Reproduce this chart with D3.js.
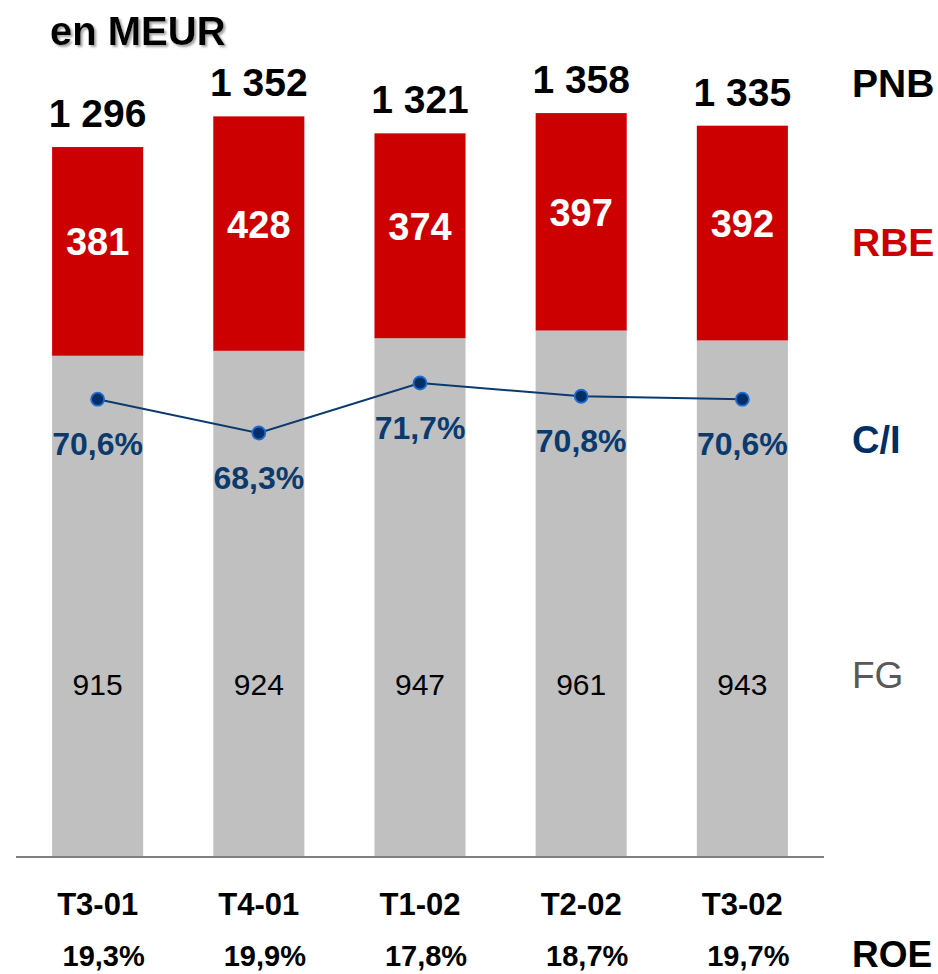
<!DOCTYPE html>
<html>
<head>
<meta charset="utf-8">
<script src="https://cdn.jsdelivr.net/npm/d3@7/dist/d3.min.js"></script>
<style>
  html, body { margin: 0; padding: 0; background: #fff; }
  svg { display: block; font-family: "Liberation Sans", Arial, sans-serif; }
</style>
</head>
<body>
<svg id="chart" width="938" height="974"></svg>
<script>
// ---- data ----
const categories = ["T3-01", "T4-01", "T1-02", "T2-02", "T3-02"];
const fgValues   = [915, 924, 947, 961, 943];      // FG (grey)
const rbeValues  = [381, 428, 374, 397, 392];      // RBE (red)
const pnbValues  = [1296, 1352, 1321, 1358, 1335]; // PNB totals
const ciValues   = [70.6, 68.3, 71.7, 70.8, 70.6]; // C/I %
const roeValues  = [19.3, 19.9, 17.8, 18.7, 19.7]; // ROE %
const legendLabels = ["PNB", "RBE", "C/I", "FG", "ROE"];

const fmtPct = v => v.toFixed(1).replace(".", ",") + "%";
const fmtThousands = v => {
  const s = String(v);
  return s.length > 3 ? s.slice(0, s.length - 3) + " " + s.slice(-3) : s;
};

const RED = "#cc0000", GREY = "#c0c0c0", NAVY = "#0b3a6e";

const svg = d3.select("#chart");

// drop shadow filter for title
const defs = svg.append("defs");
const f = defs.append("filter").attr("id", "shadow")
  .attr("x", "-10%").attr("y", "-20%").attr("width", "130%").attr("height", "150%");
f.append("feDropShadow").attr("dx", 2).attr("dy", 2).attr("stdDeviation", 0.8)
  .attr("flood-color", "#999").attr("flood-opacity", 0.9);

const x = d3.scaleBand().domain(categories).range([16, 824])
  .paddingInner(0.435).paddingOuter(0.224);
const y = d3.scaleLinear().domain([0, 1400]).range([857, 857 - 1400 * 0.5478]);
const yCI = d3.scaleLinear().domain([60, 80]).range([555, 261]);

// title
svg.append("text").attr("x", 50).attr("y", 45).text("en MEUR")
  .attr("font-size", 40).attr("font-weight", "bold").attr("fill", "#000")
  .attr("filter", "url(#shadow)");

const rows = categories.map((c, i) => ({
  cat: c, fg: fgValues[i], rbe: rbeValues[i], pnb: pnbValues[i], ci: ciValues[i], roe: roeValues[i]
}));

// FG bars
svg.append("g").selectAll("rect").data(rows).join("rect")
  .attr("x", d => x(d.cat)).attr("width", x.bandwidth())
  .attr("y", d => y(d.fg)).attr("height", d => y(0) - y(d.fg))
  .attr("fill", GREY);

// RBE bars
svg.append("g").selectAll("rect").data(rows).join("rect")
  .attr("x", d => x(d.cat)).attr("width", x.bandwidth())
  .attr("y", d => y(d.fg + d.rbe)).attr("height", d => y(d.fg) - y(d.fg + d.rbe))
  .attr("fill", RED);

// axis baseline
svg.append("line").attr("x1", 16).attr("x2", 824).attr("y1", y(0)).attr("y2", y(0))
  .attr("stroke", "#7f7f7f").attr("stroke-width", 2);

const cx = d => x(d.cat) + x.bandwidth() / 2;

// PNB totals
svg.append("g").selectAll("text").data(rows).join("text")
  .attr("x", cx).attr("y", d => y(d.pnb) - 20)
  .attr("text-anchor", "middle").attr("font-size", 39).attr("font-weight", "bold")
  .attr("fill", "#000").text(d => fmtThousands(d.pnb));

// RBE labels
svg.append("g").selectAll("text").data(rows).join("text")
  .attr("x", cx).attr("y", d => (y(d.fg) + y(d.fg + d.rbe)) / 2 + 4)
  .attr("text-anchor", "middle").attr("font-size", 38).attr("font-weight", "bold")
  .attr("fill", "#fff").text(d => d.rbe);

// FG labels
svg.append("g").selectAll("text").data(rows).join("text")
  .attr("x", cx).attr("y", y(0) - 162)
  .attr("text-anchor", "middle").attr("font-size", 30)
  .attr("fill", "#000").text(d => d.fg);

// C/I line
const line = d3.line().x(cx).y(d => yCI(d.ci));
svg.append("path").datum(rows).attr("d", line)
  .attr("fill", "none").attr("stroke", NAVY).attr("stroke-width", 2);
svg.append("g").selectAll("circle").data(rows).join("circle")
  .attr("cx", cx).attr("cy", d => yCI(d.ci)).attr("r", 6.5)
  .attr("fill", "#002f66").attr("stroke", "#1e6ad0").attr("stroke-width", 1.8);
svg.append("g").selectAll("text").data(rows).join("text")
  .attr("x", cx).attr("y", d => yCI(d.ci) + 56)
  .attr("text-anchor", "middle").attr("font-size", 32).attr("font-weight", "bold")
  .attr("fill", NAVY).text(d => fmtPct(d.ci));

// category labels
svg.append("g").selectAll("text").data(rows).join("text")
  .attr("x", cx).attr("y", 915)
  .attr("text-anchor", "middle").attr("font-size", 31).attr("font-weight", "bold")
  .attr("fill", "#000").text(d => d.cat);

// ROE labels
svg.append("g").selectAll("text").data(rows).join("text")
  .attr("x", d => cx(d) + 6).attr("y", 966)
  .attr("text-anchor", "middle").attr("font-size", 29).attr("font-weight", "bold")
  .attr("fill", "#000").text(d => fmtPct(d.roe));

// right-side legend labels
const legendStyle = [
  { y: 97,  fill: "#000",    weight: "bold",   size: 39 },
  { y: 256, fill: RED,       weight: "bold",   size: 39 },
  { y: 453, fill: "#002f66", weight: "bold",   size: 38 },
  { y: 688, fill: "#595959", weight: "normal", size: 37 },
  { y: 967, fill: "#000",    weight: "bold",   size: 37 }
];
svg.append("g").selectAll("text").data(legendLabels).join("text")
  .attr("x", 852).attr("y", (d, i) => legendStyle[i].y)
  .attr("font-size", (d, i) => legendStyle[i].size)
  .attr("font-weight", (d, i) => legendStyle[i].weight)
  .attr("fill", (d, i) => legendStyle[i].fill)
  .text(d => d);
</script>
</body>
</html>
